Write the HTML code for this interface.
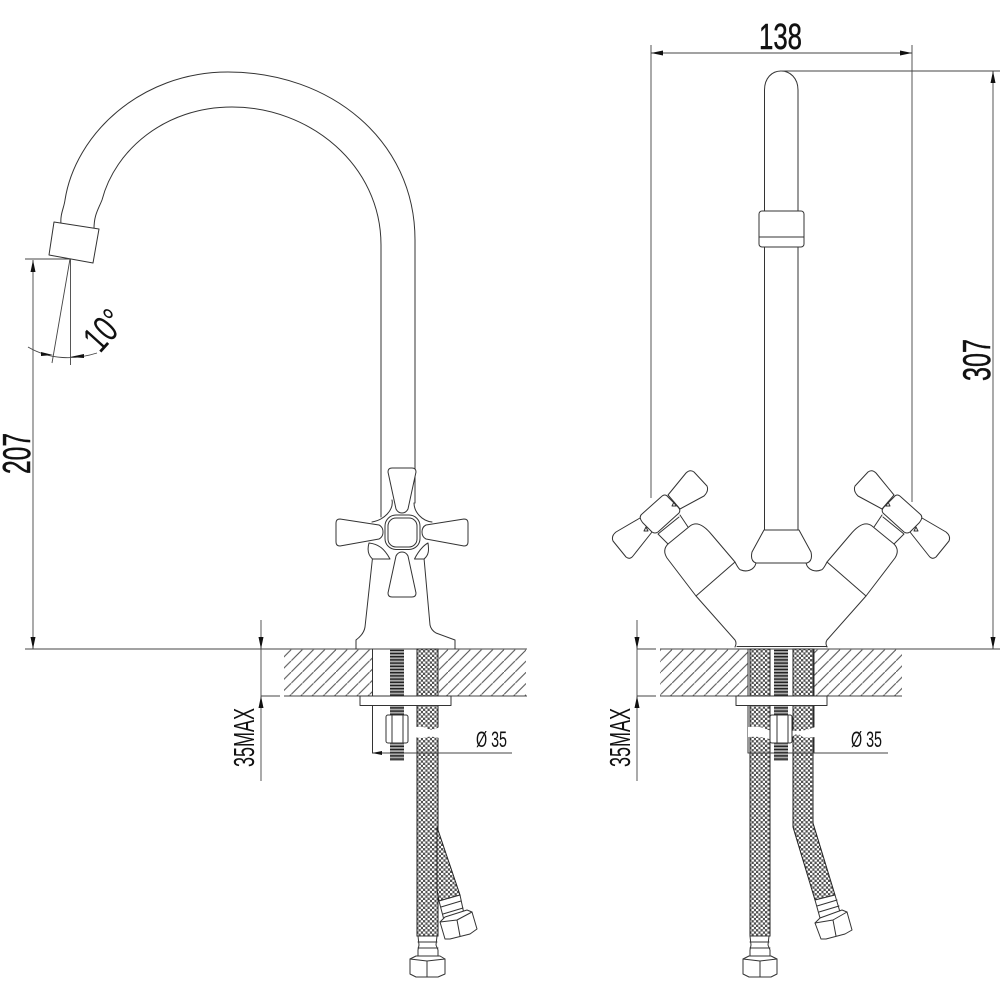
<!DOCTYPE html>
<html><head><meta charset="utf-8"><style>
html,body{margin:0;padding:0;background:#fff}
svg{display:block}
text{font-family:"Liberation Sans",sans-serif;fill:#111}
.l{fill:none;stroke:#333;stroke-width:1;stroke-linejoin:round;stroke-linecap:round}
.w{fill:#fff;stroke:#333;stroke-width:1;stroke-linejoin:round}
.d{fill:none;stroke:#444;stroke-width:.9}
.h{fill:url(#hose);stroke:#222;stroke-width:1}
.b{stroke:#111;stroke-width:.5}
</style></head><body>
<svg width="1000" height="1000" viewBox="0 0 1000 1000" xmlns="http://www.w3.org/2000/svg">
<defs>
<pattern id="hatch" width="11.2" height="11.2" patternUnits="userSpaceOnUse">
<rect width="11.2" height="11.2" fill="#fff"/><path d="M-1,12.2L12.2,-1" stroke="#555" stroke-width="1.1"/>
</pattern>
<pattern id="hose" width="4.5" height="4.5" patternUnits="userSpaceOnUse">
<rect width="4.5" height="4.5" fill="#505050"/>
<rect x="0" y="0" width="2.4" height="2.1" fill="#fff"/>
<rect x="2.25" y="2.25" width="2.4" height="2.1" fill="#fff"/>
</pattern>
<pattern id="thread" width="14" height="3.2" patternUnits="userSpaceOnUse">
<rect width="14" height="3.2" fill="#aaa"/><rect width="14" height="1.4" fill="#222"/>
</pattern>
</defs>

<!-- LEFT VIEW: spout -->
<path class="l" d="M415,503V240C415,140 330,72 228,72C140,72 75,135 65,200C64,208 60,214 61,224"/>
<path class="l" d="M381,517V245C381,165 310,107 232,107C165,107 115,150 102,200C98,210 94,215 94,229"/>
<path class="w" d="M54,222L99,229L93,263L49,255Z"/>

<!-- 10 degree -->
<path class="d" d="M25,259H70M70.500,259V365M70,259L52,363"/>
<path class="d" d="M28,347C50,360 75,360 97,353"/>
<path d="M41,352L53,355L41,356Z M70,357L84,354L84,358Z" fill="#111"/>
<text transform="translate(100,354) rotate(-48) scale(.75,1.05)" font-size="36">10°</text>

<!-- left dim 207 -->
<path class="d" d="M33,260V649"/>
<path d="M33,260L30.500,272H35.500Z" fill="#111"/>
<path d="M33,649L30.500,637H35.500Z" fill="#111"/>
<text class="b" transform="translate(30,474) rotate(-90)" font-size="39" textLength="41" lengthAdjust="spacingAndGlyphs">207</text>

<!-- floor lines -->
<path class="d" d="M25,649H527M637,649H656M660,649H1000"/>
<path class="d" d="M261,696H280M284,696H527M637,696H656M660,696H902"/>

<!-- left body -->
<path class="l" d="M372.500,558L365,627Q364,634 356,640V649M424,558L430,625Q431,630 436,633L455,640V649"/>
<!-- cross arcs -->
<path class="l" d="M392,500C394,510 384,520 372,522M414,503C414,512 422,521 432,522"/>
<path class="w" d="M390,559C384,548 378,544 369,543C367,550 368,555 372.500,559Z"/>
<path class="w" d="M414.500,559C420,548 426,544 428,543C429,550 429,555 424,559Z"/>
<!-- blades -->
<path class="w" d="M392,468H412Q416,468 416,472L408,509Q406,513 402,513Q398,513 396,509L388,472Q388,468 392,468Z"/>
<path class="w" d="M392,597H412Q416,597 416,593L408,556Q406,552 402,552Q398,552 396,556L388,593Q388,597 392,597Z"/>
<path class="w" d="M340,519L379,525Q383,527 383,532Q383,537 379,539L340,546Q336,546 336,542V523Q336,519 340,519Z"/>
<path class="w" d="M464,519L426,525Q422,527 422,532Q422,537 426,539L464,546Q468,546 468,542V523Q468,519 464,519Z"/>
<rect class="w" x="385" y="515" width="35" height="34.500" rx="11"/>
<rect class="l" x="388" y="518" width="29" height="29" rx="8"/>

<!-- RIGHT VIEW -->
<path class="l" d="M764.500,530V90C764.500,78 772,71 781,71C790,71 798,78 798,90V530"/>
<rect class="w" x="759" y="211" width="45" height="36" rx="3"/>
<path class="l" d="M759,237H804"/>
<path class="w" d="M764,530H799L811,552Q813,561 807,563H756Q750,561 752,552Z"/>

<g id="arm">
<path class="l" d="M696,596L735,640Q737,643 735,647"/>
<path class="l" d="M756,563C754,571 746,572 741,570Q739,570 735,562"/>
<path class="w" d="M735,562L712,535Q699,519 690,526L668,544Q662,550 667,558L696,596Z"/>
<path class="l" d="M680,515L688,527M658,534L668,544M679,517L658,534"/>
<path class="w" d="M668,495L686,473Q690,469 694,472L707,486Q709,491 704,496L680,509Z"/>
<path class="w" d="M640,518L616,532Q611,536 613,541L626,557Q630,560 633,556L652,532Z"/>
<path class="w" d="M661,497Q665,493 668,497L678,507Q681,510 679,513L658,532Q655,534 652,532L643,523Q638,517 642,514Z"/>
<path class="l" d="M674,502L676,506L672,506Z M646,527L648,531L644,531Z"/>
</g>
<use href="#arm" transform="translate(1562,0) scale(-1,1)"/>
<path class="l" d="M737,646.500H827"/>
<path class="d" d="M651,45V498M912,45V502M651,53H912M780,71H1000"/>
<path d="M651,53L663,50.500V55.500Z M912,53L900,50.500V55.500Z" fill="#111"/>
<path class="d" d="M993,71V649"/>
<path d="M993,71L990.500,83H995.500Z M993,649L990.500,637H995.500Z" fill="#111"/>
<text class="b" x="759" y="49" font-size="36" textLength="43" lengthAdjust="spacingAndGlyphs">138</text>
<text class="b" transform="translate(990,381) rotate(-90)" font-size="39" textLength="42" lengthAdjust="spacingAndGlyphs">307</text>

<!-- hatching -->
<rect x="284" y="649.500" width="89" height="46" fill="url(#hatch)"/>
<rect x="439" y="649.500" width="87" height="46" fill="url(#hatch)"/>
<rect x="660" y="649.500" width="88" height="46" fill="url(#hatch)"/>
<rect x="814" y="649.500" width="88" height="46" fill="url(#hatch)"/>

<!-- LEFT under-counter -->
<path class="l" d="M372.500,649V753M438,649V696"/>
<rect x="390" y="649" width="14" height="112" fill="url(#thread)"/>
<rect x="417" y="649" width="21" height="287" class="h"/>
<path d="M415,727Q425,726 428,729Q434,731 439,727V738Q432,736 427,737Q422,739 415,737Z" fill="#fff"/>
<rect class="w" x="360" y="696" width="91" height="9.500"/>
<rect class="w" x="386" y="715" width="22" height="28" rx="2"/>
<path class="l" d="M392,715V743M403,715V743"/>
<path class="d" d="M372,753H512"/>
<path d="M372,753L382,751V755Z" fill="#111"/>
<path class="d" d="M261,620V781"/>
<path d="M261,649L258.500,637H263.500Z M261,696L258.500,708H263.500Z" fill="#111"/>
<text transform="translate(254,767) rotate(-90)" font-size="29" textLength="59" lengthAdjust="spacingAndGlyphs">35MAX</text>
<text x="476" y="747" font-size="22" textLength="31" lengthAdjust="spacingAndGlyphs">Ø 35</text>

<!-- left lower hose -->
<path class="h" d="M437,827L460,895L439,901L437,890Z"/>
<path class="w" d="M439,901L460,895L464,914L444,920Z"/>
<path class="l" d="M441,907L461,901M443,914L463,908"/>
<path class="w" d="M440,922L445,917L467,910L472,912L477,929L470,934L450,939L445,939Z"/>
<path class="l" d="M440,922L457,920L472,912M457,920L460,936"/>
<path class="w" d="M418,936H437L436,945L438,950V956H418V950L419,945Z"/>
<path class="l" d="M418,942H437M418,948H438"/>
<path class="w" d="M410,959L416,956H440L445,959V974L438,977H416L410,974Z"/>
<path class="l" d="M410,959L427,961L445,959M427,961V977"/>

<!-- RIGHT under-counter -->
<rect x="750" y="649" width="20" height="287" class="h"/>
<path class="h" d="M793,649H813V823L835,895L815,900L793,827Z"/>
<rect x="774" y="649" width="14" height="112" fill="url(#thread)"/>
<path class="l" d="M748,649V753M814,649V753"/>
<path d="M748,727Q760,726 766,729Q770,731 772,730V740Q762,736 748,737Z M790,730Q800,733 815,727V737Q803,739 800,735Q795,732 790,740Z" fill="#fff"/>
<rect class="w" x="736" y="696" width="91" height="9.500"/>
<rect class="w" x="770" y="715" width="22" height="28" rx="2"/>
<path class="l" d="M777,715V743M788,715V743"/>
<path class="d" d="M748,753H888"/>
<path class="d" d="M637,620V781"/>
<path d="M637,649L634.500,637H639.500Z M637,696L634.500,708H639.500Z" fill="#111"/>
<text transform="translate(630,767) rotate(-90)" font-size="29" textLength="59" lengthAdjust="spacingAndGlyphs">35MAX</text>
<text x="851" y="747" font-size="22" textLength="31" lengthAdjust="spacingAndGlyphs">Ø 35</text>

<!-- right lower hose -->
<path class="w" d="M815,900L835,895L840,912L820,918Z"/>
<path class="l" d="M817,906L837,900M819,912L839,906"/>
<path class="w" d="M815,923L820,918L842,910L847,912L852,930L845,934L826,939L821,939Z"/>
<path class="l" d="M815,923L833,920L847,912M833,920L836,936"/>
<path class="w" d="M750,936H769L768,945L770,950V956H750V950L751,945Z"/>
<path class="l" d="M750,942H769M750,948H770"/>
<path class="w" d="M743,959L749,956H771L777,959V974L771,977H749L743,974Z"/>
<path class="l" d="M743,959L760,961L777,959M760,961V977"/>
</svg>
</body></html>
